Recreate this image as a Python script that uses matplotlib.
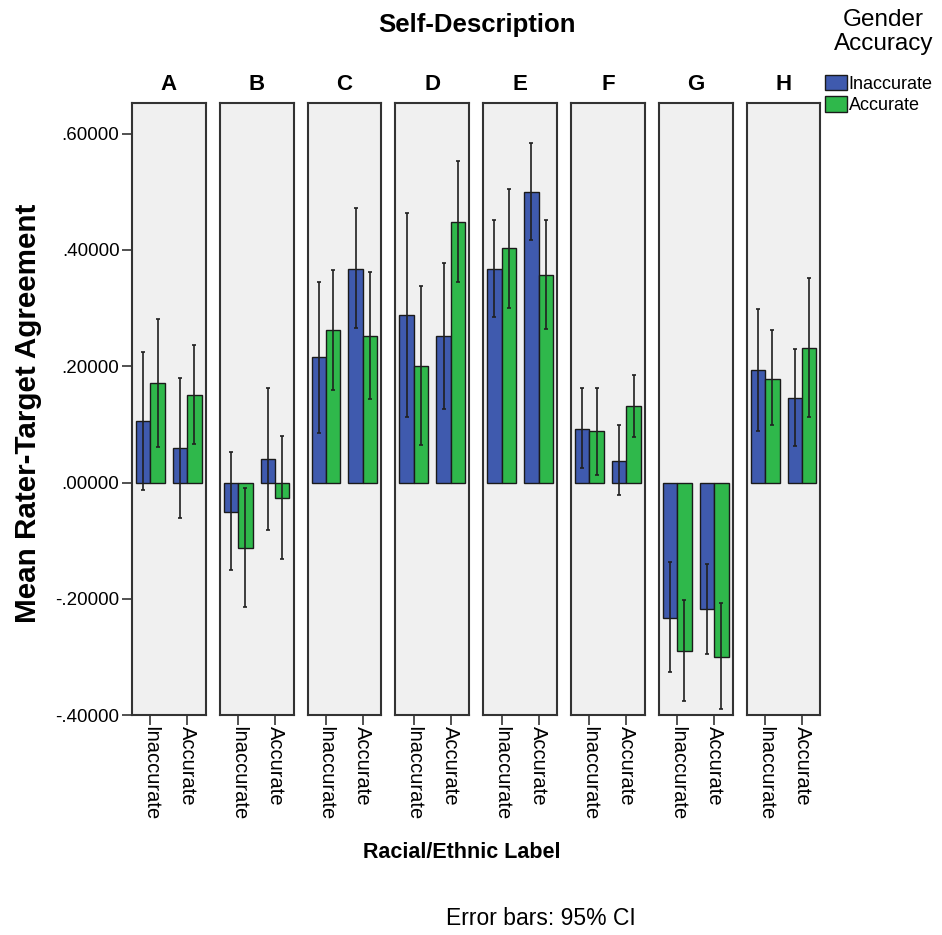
import matplotlib
matplotlib.use("Agg")
import matplotlib.pyplot as plt
import numpy as np

plt.rcParams['font.family'] = ['Liberation Sans', 'DejaVu Sans']

panels = ["A", "B", "C", "D", "E", "F", "G", "H"]
labels = ["Inaccurate", "Accurate"]          # Racial/Ethnic Label (x categories)
series = ["Inaccurate", "Accurate"]          # Gender Accuracy (legend)

# means[panel][x-category] for each gender-accuracy series
inacc_mean = [[0.106, 0.060], [-0.050, 0.041], [0.216, 0.368], [0.288, 0.252],
              [0.368, 0.500], [0.093, 0.037], [-0.233, -0.217], [0.193, 0.146]]
inacc_lo = [[-0.013, -0.060], [-0.151, -0.081], [0.085, 0.266], [0.112, 0.126],
            [0.284, 0.418], [0.026, -0.022], [-0.325, -0.294], [0.088, 0.063]]
inacc_hi = [[0.225, 0.180], [0.053, 0.163], [0.345, 0.472], [0.464, 0.378],
            [0.451, 0.584], [0.162, 0.099], [-0.136, -0.140], [0.298, 0.229]]

acc_mean = [[0.172, 0.151], [-0.113, -0.026], [0.263, 0.252], [0.201, 0.448],
            [0.403, 0.357], [0.088, 0.132], [-0.289, -0.300], [0.179, 0.232]]
acc_lo = [[0.062, 0.066], [-0.213, -0.132], [0.160, 0.143], [0.064, 0.345],
          [0.301, 0.265], [0.013, 0.078], [-0.375, -0.389], [0.099, 0.113]]
acc_hi = [[0.282, 0.236], [-0.009, 0.080], [0.366, 0.362], [0.338, 0.553],
          [0.505, 0.451], [0.163, 0.185], [-0.201, -0.207], [0.262, 0.352]]

yticks = [0.6, 0.4, 0.2, 0.0, -0.2, -0.4]
ytick_labels = [".60000", ".40000", ".20000", ".00000", "-.20000", "-.40000"]

colors = ["#3f5aae", "#2fb84b"]

fig = plt.figure(figsize=(9.42, 9.35), dpi=100)
gs = fig.add_gridspec(1, 8, left=0.140, right=0.871, top=0.890, bottom=0.235, wspace=0.19)

x = np.arange(len(labels))
w = 0.39
for i, p in enumerate(panels):
    ax = fig.add_subplot(gs[0, i])
    ax.set_facecolor("#f0f0f0")
    data = [(inacc_mean[i], inacc_lo[i], inacc_hi[i]), (acc_mean[i], acc_lo[i], acc_hi[i])]
    for s, (m, lo, hi) in enumerate(data):
        m = np.array(m); lo = np.array(lo); hi = np.array(hi)
        xs = x + (s - 0.5) * w
        ax.bar(xs, m, width=w, color=colors[s], edgecolor="#1a1a1a", linewidth=1.0,
               label=series[s], zorder=2)
        ax.errorbar(xs, m, yerr=[m - lo, hi - m], fmt="none", ecolor="#202020",
                    elinewidth=1.2, capsize=1.5, capthick=1.2, zorder=3)
    ax.set_xlim(-0.5, 1.5)
    ax.set_ylim(-0.4, 0.653)
    ax.set_xticks(x)
    ax.set_xticklabels(labels, rotation=270, fontsize=14.5, va="top", ha="center")
    ax.tick_params(axis="x", length=7, width=1.2, color="#333333", pad=1)
    for sp in ax.spines.values():
        sp.set_color("#333333")
        sp.set_linewidth(1.5)
    ax.set_title(p, fontsize=16, fontweight="bold", pad=9)
    if i == 0:
        ax.set_yticks(yticks)
        ax.set_yticklabels(ytick_labels, fontsize=13.5)
        ax.tick_params(axis="y", length=7, width=1.2, color="#333333", pad=2)
        handles, hl = ax.get_legend_handles_labels()
    else:
        ax.set_yticks([])

fig.text(28 / 942, 1 - 413 / 935, "Mean Rater-Target Agreement", fontsize=21.3,
         fontweight="bold", rotation=90, ha="center", va="center")
fig.text(0.506, 0.973, "Self-Description", fontsize=18.5, fontweight="bold", ha="center", va="center")
fig.text(0.490, 0.088, "Racial/Ethnic Label", fontsize=15.5, fontweight="bold", ha="center", va="center")
fig.text(0.574, 0.018, "Error bars: 95% CI", fontsize=16.5, ha="center", va="center")
fig.text(0.938, 0.966, "Gender\nAccuracy", fontsize=17.5, ha="center", va="center", linespacing=1.12)
fig.legend(handles, hl, loc="upper left", bbox_to_anchor=(0.876, 0.920), frameon=False,
           fontsize=13, handlelength=1.2, handleheight=0.95, handletextpad=0.1,
           labelspacing=0.2, borderaxespad=0, borderpad=0)

fig.savefig("out.png", dpi=100)
